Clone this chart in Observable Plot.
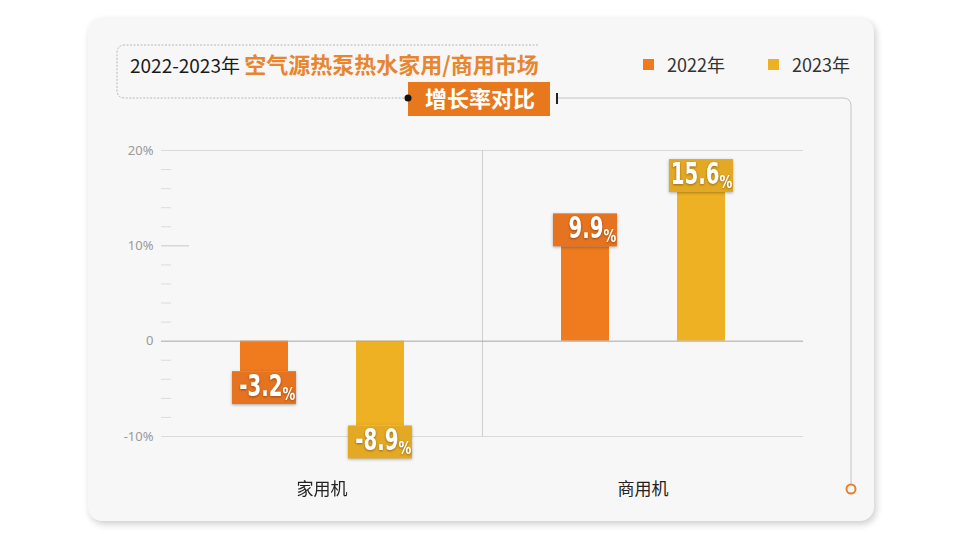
<!DOCTYPE html>
<html><head><meta charset="utf-8">
<script src="https://cdn.jsdelivr.net/npm/d3@7"></script>
<script src="https://cdn.jsdelivr.net/npm/@observablehq/plot@0.6"></script>
<style>
html,body{margin:0;padding:0;background:#fff;width:960px;height:540px;overflow:hidden;font-family:"Noto Sans CJK SC","Noto Sans",sans-serif;}
#stage{position:relative;width:960px;height:540px;}
.card{position:absolute;left:88px;top:18px;width:786px;height:503px;background:#f7f7f7;border-radius:14px;box-shadow:2px 3px 7px rgba(0,0,0,0.20);}
#deco{position:absolute;left:0;top:0;}
#chart{position:absolute;left:0;top:0;}
#chart svg{overflow:visible;}
</style></head>
<body><div id="stage">
<div class="card"></div>
<svg id="deco" width="960" height="540"></svg>
<div id="chart"></div>
</div>
<script>
// ---- data ----
const categories = ["家用机", "商用机"];
const years = ["2022", "2023"];
const values2022 = [-3.2, 9.9];
const values2023 = [-8.9, 15.6];
const yTickValues = [20, 10, 0, -10];
const minorTickValues = [-8, -6, -4, -2, 2, 4, 6, 8, 12, 14, 16, 18];
const titleBlack = "2022-2023年 ";
const titleOrange = "空气源热泵热水家用/商用市场";
const subtitle = "增长率对比";

const barColors = ["#F07A1E", "#EDB123"];
const boxColors = ["#E5731F", "#E3A824"];

const data = [];
categories.forEach((c, i) => {
  data.push({cat: c, year: years[0], value: values2022[i]});
  data.push({cat: c, year: years[1], value: values2023[i]});
});
const boxH = 3.45;
const sgn = d => Math.sign(d.value);

// ---- decoration (title, legend, connector) ----
const deco = d3.select("#deco");
deco.append("path")
  .attr("d", "M538,45 H125 Q117,45 117,53 V90 Q117,98 125,98 H408")
  .attr("fill", "none").attr("stroke", "#b8b8b8").attr("stroke-width", 1).attr("stroke-dasharray", "2 1.5");
deco.append("path")
  .attr("d", "M556,98 H843 Q851,98 851,106 V484")
  .attr("fill", "none").attr("stroke", "#c4c4c4").attr("stroke-width", 1);
deco.append("circle").attr("cx", 851).attr("cy", 489).attr("r", 4.5)
  .attr("fill", "#f7f7f7").attr("stroke", "#E8802A").attr("stroke-width", 2);
const tt = deco.append("text").attr("x", 130).attr("y", 73)
  .attr("font-family", '"Noto Sans CJK SC","Noto Sans",sans-serif').attr("font-size", 19).attr("fill", "#1a1a1a");
tt.append("tspan").text(titleBlack);
tt.append("tspan").attr("fill", "#E8852F").attr("font-weight", "bold").attr("font-size", 22).text(titleOrange);
deco.append("rect").attr("x", 408).attr("y", 82).attr("width", 142).attr("height", 34).attr("fill", "#E8781E");
deco.append("text").attr("x", 480).attr("y", 107).attr("text-anchor", "middle")
  .attr("font-family", '"Noto Sans CJK SC",sans-serif').attr("font-size", 22).attr("font-weight", "bold")
  .attr("fill", "#fff").text(subtitle);
deco.append("circle").attr("cx", 408).attr("cy", 98).attr("r", 3.5).attr("fill", "#111");
deco.append("rect").attr("x", 556).attr("y", 93).attr("width", 2).attr("height", 11).attr("fill", "#222");
// legend
years.forEach((y, i) => {
  const x0 = [643, 768][i];
  deco.append("rect").attr("x", x0).attr("y", 59).attr("width", 11).attr("height", 11).attr("fill", barColors[i]);
  deco.append("text").attr("x", x0 + 24).attr("y", 72)
    .attr("font-family", '"Noto Sans CJK SC",sans-serif').attr("font-size", 18).attr("fill", "#333").text(y + "年");
});

// ---- chart ----
const chart = Plot.plot({
  width: 960, height: 540,
  marginLeft: 160, marginRight: 157, marginTop: 150, marginBottom: 104,
  style: {background: "transparent", fontFamily: '"Noto Sans","Noto Sans CJK SC",sans-serif', overflow: "visible"},
  fx: {domain: categories, padding: 0},
  x: {domain: years, paddingInner: 0.59, paddingOuter: 0.67, axis: null},
  y: {domain: [-10, 20]},
  color: {domain: years, range: barColors},
  marks: [
    Plot.ruleY([20, -10], {stroke: "#dadada"}),
    Plot.frame({anchor: "left", stroke: "#cfcfcf", fx: [categories[1]]}),
    Plot.barY(data, {fx: "cat", x: "year", y: "value", fill: "year"}),
    Plot.ruleY([0], {stroke: "#a8a8a8"}),
    Plot.barY(data, {
      fx: "cat", x: "year",
      y1: d => d.value, y2: d => d.value + sgn(d) * boxH,
      fill: d => boxColors[years.indexOf(d.year)],
      insetLeft: -8, insetRight: -8, className: "labelbox"
    }),
    Plot.text(data, {
      fx: "cat", x: "year", y: d => d.value + sgn(d) * boxH / 2,
      text: d => d.value.toFixed(1), textAnchor: "end", dx: 18, dy: 8,
      fill: "#fff", fontSize: 30, fontWeight: "bold", className: "barnum",
      fontFamily: '"DejaVu Sans","Liberation Sans",sans-serif'
    }),
    Plot.text(data, {
      fx: "cat", x: "year", y: d => d.value + sgn(d) * boxH / 2,
      text: () => "%", textAnchor: "start", dx: 18, dy: 12,
      fill: "#fff", fontSize: 17, fontWeight: "bold", className: "barpct",
      fontFamily: '"DejaVu Sans","Liberation Sans",sans-serif'
    }),
    Plot.axisY({ticks: yTickValues, tickSize: 0, tickPadding: 8, label: null,
      tickFormat: d => d === 0 ? "0" : d + "%", fill: "#999", fontSize: 13}),
    Plot.axisY({ticks: [10], tickSize: -28, tickFormat: () => "", label: null, stroke: "#c8c8c8"}),
    Plot.axisY({ticks: minorTickValues, tickSize: -10, tickFormat: () => "", label: null, stroke: "#dcdcdc"}),
    Plot.axisFx({anchor: "bottom", tickSize: 0, tickPadding: 46, label: null,
      fontSize: 17, fill: "#222", fontFamily: '"Noto Sans CJK SC",sans-serif'})
  ]
});
document.getElementById("chart").appendChild(chart);

// condense label glyphs horizontally
function condense(sel, s) {
  d3.select(chart).selectAll(sel).each(function () {
    const t = d3.select(this);
    const x = +t.attr("x") || 0, y = +t.attr("y") || 0;
    const tr = t.attr("transform") || "";
    t.attr("x", null).attr("y", null).attr("transform", `${tr} translate(${x},${y}) scale(${s},1)`);
  });
}
condense('.barnum text', 0.66);
condense('.barpct text', 0.75);
d3.select(chart).selectAll('.labelbox').style("filter", "drop-shadow(0px 1px 1.5px rgba(0,0,0,0.3))");
d3.select(chart).selectAll('.barnum, .barpct').style("filter", "drop-shadow(0px 1px 1px rgba(0,0,0,0.35))");
</script>
</body></html>
